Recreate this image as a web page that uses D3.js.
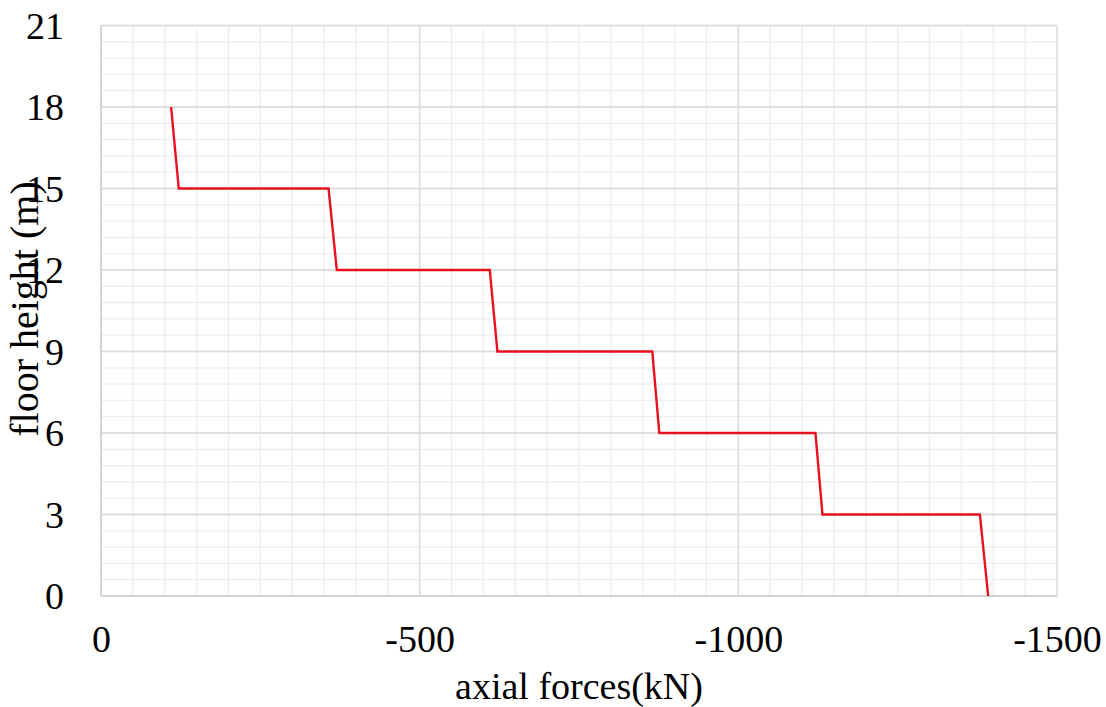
<!DOCTYPE html>
<html>
<head>
<meta charset="utf-8">
<script src="https://cdn.jsdelivr.net/npm/d3@7"></script>
<style>
  html, body { margin: 0; padding: 0; background: #fff; }
  svg text { font-family: "Liberation Serif", "Times New Roman", serif; fill: #000; }
</style>
</head>
<body>
<svg id="chart" width="1106" height="707"></svg>
<script>
// Axial force along the column height (kN vs m)
const axialForce = [-110, -122, -357, -370, -610, -622, -865, -876, -1121, -1132, -1379, -1392];
const floorHeight = [18, 15, 15, 12, 12, 9, 9, 6, 6, 3, 3, 0];
const xTicks = [0, -500, -1000, -1500];
const yTicks = [0, 3, 6, 9, 12, 15, 18, 21];

const W = 1106, H = 707;
const margin = { left: 101, right: 49, top: 25.5, bottom: 111 };
const svg = d3.select("#chart");

const x = d3.scaleLinear().domain([0, -1500]).range([margin.left, W - margin.right]);
const y = d3.scaleLinear().domain([0, 21]).range([H - margin.bottom, margin.top]);

const g = svg.append("g");

// minor grid
const minorX = d3.range(0, -1500.1, -50);
const minorY = d3.range(0, 21.01, 0.6);
g.append("g").selectAll("line").data(minorX).join("line")
  .attr("x1", d => x(d)).attr("x2", d => x(d))
  .attr("y1", y(0)).attr("y2", y(21))
  .attr("stroke", "#eeeeee").attr("stroke-width", 1.3);
g.append("g").selectAll("line").data(minorY).join("line")
  .attr("y1", d => y(d)).attr("y2", d => y(d))
  .attr("x1", x(0)).attr("x2", x(-1500))
  .attr("stroke", "#eeeeee").attr("stroke-width", 1.3);

// major grid
g.append("g").selectAll("line").data(xTicks).join("line")
  .attr("x1", d => x(d)).attr("x2", d => x(d))
  .attr("y1", y(0)).attr("y2", y(21))
  .attr("stroke", "#d9d9d9").attr("stroke-width", 1.3);
g.append("g").selectAll("line").data(yTicks).join("line")
  .attr("y1", d => y(d)).attr("y2", d => y(d))
  .attr("x1", x(0)).attr("x2", x(-1500))
  .attr("stroke", "#d9d9d9").attr("stroke-width", 1.3);

// axis lines
g.append("line").attr("x1", x(0)).attr("x2", x(0)).attr("y1", y(0)).attr("y2", y(21))
  .attr("stroke", "#cfcfcf").attr("stroke-width", 1.5);
g.append("line").attr("x1", x(0)).attr("x2", x(-1500)).attr("y1", y(0)).attr("y2", y(0))
  .attr("stroke", "#cfcfcf").attr("stroke-width", 1.5);

// tick labels (plain hyphen for negatives)
const fmt = d => String(d);
const xAxis = d3.axisBottom(x).tickValues(xTicks).tickSize(0).tickPadding(0).tickFormat(fmt);
const xa = svg.append("g").attr("transform", `translate(0,${y(0)})`).call(xAxis);
xa.select(".domain").remove();
xa.selectAll("text").attr("font-size", 38).attr("dy", 0).attr("y", 56)
  .style("font-family", '"Liberation Serif", serif');

const yAxis = d3.axisLeft(y).tickValues(yTicks).tickSize(0).tickPadding(0).tickFormat(fmt);
const ya = svg.append("g").attr("transform", `translate(${x(0) - 37},0)`).call(yAxis);
ya.select(".domain").remove();
ya.selectAll("text").attr("font-size", 38).attr("dy", "0.33em")
  .style("font-family", '"Liberation Serif", serif');

// series line
const pts = axialForce.map((f, i) => [f, floorHeight[i]]);
svg.append("path").datum(pts)
  .attr("fill", "none").attr("stroke", "#e8101e").attr("stroke-width", 2.4)
  .attr("stroke-linejoin", "miter")
  .attr("d", d3.line().x(d => x(d[0])).y(d => y(d[1])));

// axis titles
svg.append("text").attr("x", 579).attr("y", 699).attr("text-anchor", "middle")
  .attr("font-size", 38).text("axial forces(kN)");
svg.append("text").attr("transform", "translate(38,309) rotate(-90)")
  .attr("text-anchor", "middle").attr("font-size", 40).text("floor height (m)");
</script>
</body>
</html>
